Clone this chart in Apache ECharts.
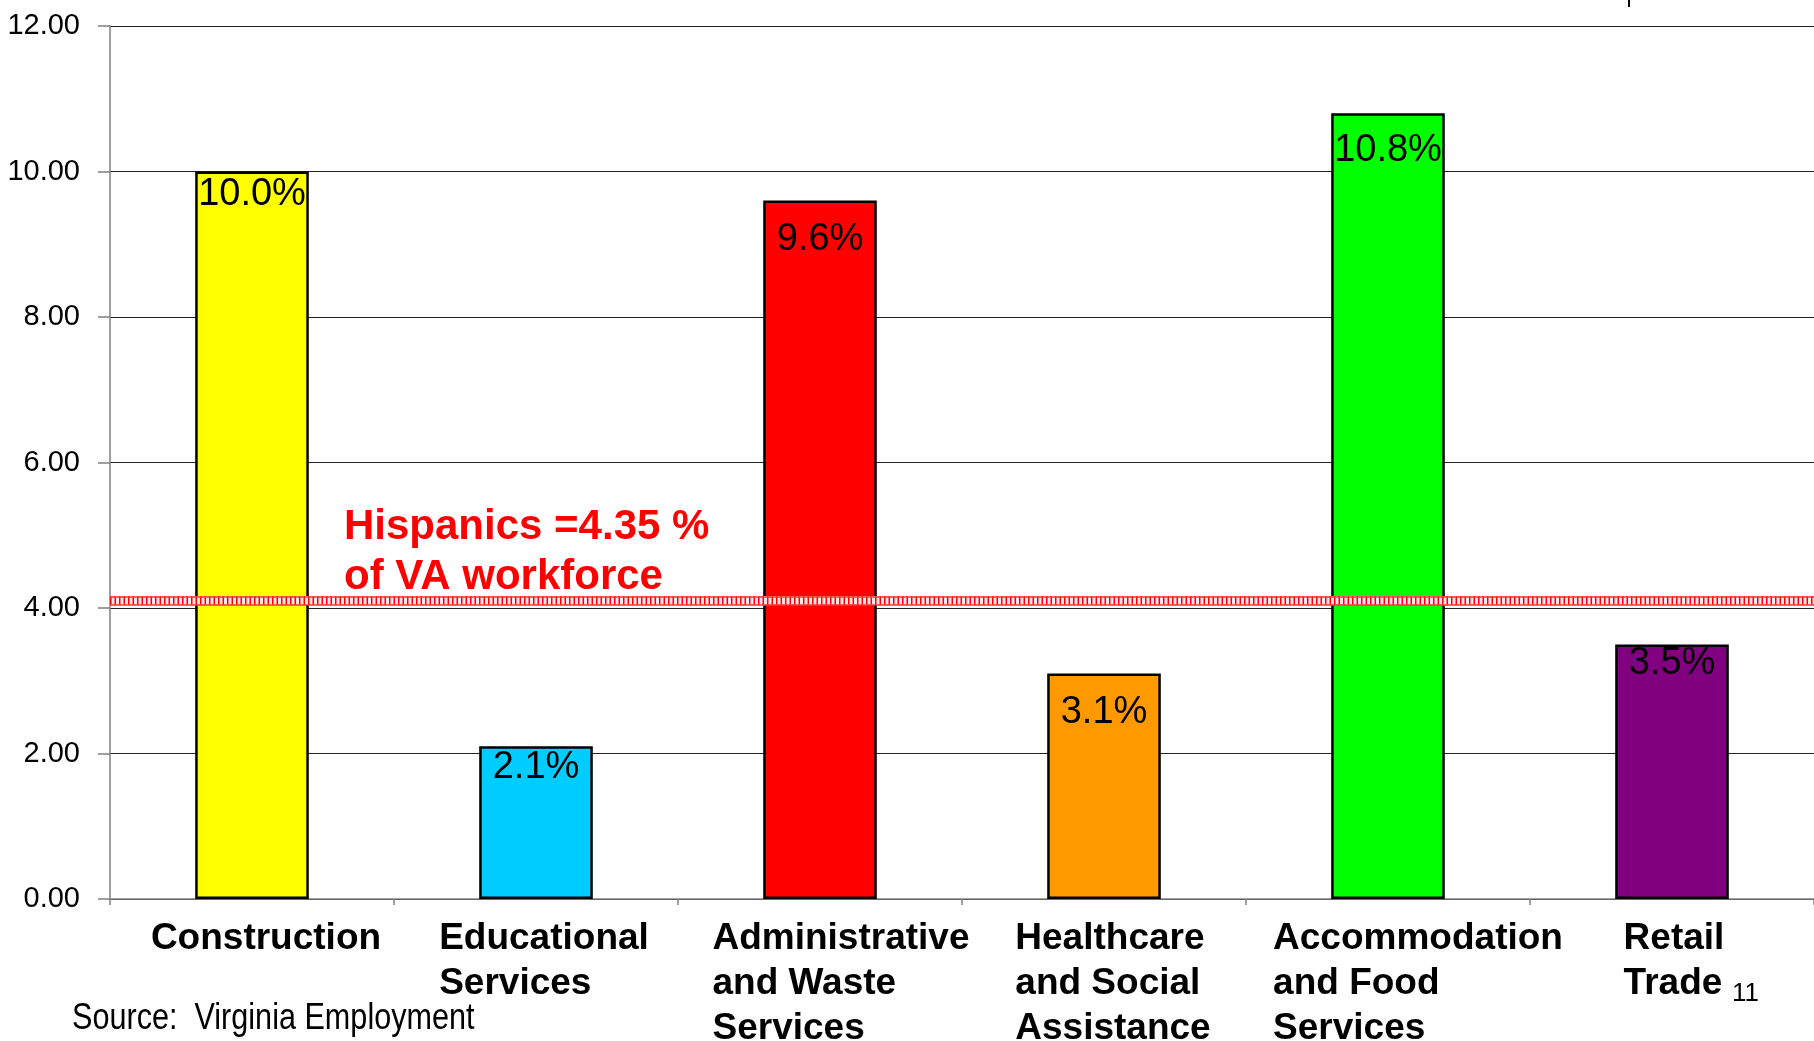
<!DOCTYPE html>
<html>
<head>
<meta charset="utf-8">
<script src="https://cdn.jsdelivr.net/npm/echarts@6/dist/echarts.min.js"></script>
<style>
html,body{margin:0;padding:0;background:#fff;}
#chart{width:1814px;height:1041px;}
</style>
</head>
<body>
<div id="chart"></div>
<script>
const categories = ['Construction', 'Educational\nServices', 'Administrative\nand Waste\nServices', 'Healthcare\nand Social\nAssistance', 'Accommodation\nand Food\nServices', 'Retail\nTrade'];
const values = [10.0, 2.1, 9.6, 3.1, 10.8, 3.5];
const barColors = ['#ffff00', '#00ccff', '#ff0000', '#ff9900', '#00ff00', '#800080'];
const labelGaps = [4, 2, 20, 20, 18, 0];
const labelShift = [14, 8, 21, 9, 30, 2];
const yTicks = [0, 2, 4, 6, 8, 10, 12];
const hispanicLevel = 4.1;
const hispanicText = 'Hispanics =4.35 %\nof VA workforce';
const sourceText = 'Source:  Virginia Employment';
const pageNumber = '11';

const richStyles = {};
labelShift.forEach(function (s, i) {
  richStyles['c' + i] = {
    align: 'left', fontFamily: 'Liberation Sans, Arial, sans-serif', fontWeight: 'bold',
    fontSize: 37, lineHeight: 45, color: '#000',
    padding: [0, s < 0 ? -2 * s : 0, 0, s > 0 ? 2 * s : 0]
  };
});

const chart = echarts.init(document.getElementById('chart'));
const redEdge = 0.06;
chart.setOption({
  animation: false,
  backgroundColor: '#ffffff',
  grid: {left: 110, right: 0, top: 26, bottom: 142, containLabel: false, outerBoundsMode: 'none'},
  xAxis: {
    type: 'category',
    data: categories,
    axisLine: {show: true, lineStyle: {color: '#808080', width: 1.5}},
    axisTick: {show: true, length: 6, lineStyle: {color: '#808080', width: 1.5}},
    axisLabel: {
      interval: 0,
      margin: 17,
      formatter: function (v, idx) {
        return v.split('\n').map(function (l) { return '{c' + idx + '|' + l + '}'; }).join('\n');
      },
      rich: richStyles
    }
  },
  yAxis: {
    type: 'value',
    min: yTicks[0],
    max: yTicks[yTicks.length - 1],
    interval: 2,
    axisLine: {show: true, lineStyle: {color: '#808080', width: 1.5}},
    axisTick: {show: true, inside: false, length: 12, lineStyle: {color: '#808080', width: 1.5}},
    axisLabel: {
      margin: 30,
      fontFamily: 'Liberation Sans, Arial, sans-serif',
      fontSize: 29,
      color: '#000',
      formatter: function (v) { return v.toFixed(2); }
    },
    splitLine: {show: true, lineStyle: {color: '#222', width: 1.2}}
  },
  series: [{
    type: 'bar',
    barWidth: '40%',
    data: values.map(function (v, i) {
      return {value: v, itemStyle: {color: barColors[i], borderColor: '#000', borderWidth: 2.5},
              label: {distance: labelGaps[i]}};
    }),
    label: {
      show: true,
      position: 'insideTop',
      fontFamily: 'Liberation Sans, Arial, sans-serif',
      fontSize: 38,
      color: '#000',
      formatter: function (p) { return p.value.toFixed(1) + '%'; }
    },
    markLine: {
      silent: true,
      symbol: 'none',
      z: 10,
      label: {show: false},
      data: [
        {yAxis: hispanicLevel, lineStyle: {color: '#ffe6e6', width: 9, type: 'solid'}},
        {yAxis: hispanicLevel, lineStyle: {color: '#ff0000', width: 9, type: [1.5, 3]}},
        {yAxis: hispanicLevel + redEdge, lineStyle: {color: '#ff3333', width: 1.5, type: 'solid'}},
        {yAxis: hispanicLevel - redEdge, lineStyle: {color: '#ff3333', width: 1.5, type: 'solid'}}
      ]
    }
  }],
  graphic: [
    {type: 'text', left: 344, top: 502, z: 20,
     style: {text: hispanicText, fill: '#ff0000', font: 'bold 42px "Liberation Sans", Arial, sans-serif', lineHeight: 50}},
    {type: 'text', x: 72, y: 1001, scaleX: 0.85, z: 20,
     style: {text: sourceText, fill: '#000', font: '36px "Liberation Sans", Arial, sans-serif'}},
    {type: 'text', left: 1732, top: 981, z: 20,
     style: {text: pageNumber, fill: '#000', font: '26px "Liberation Sans", Arial, sans-serif'}},
    {type: 'line', z: 20, shape: {x1: 1629, y1: 0, x2: 1629, y2: 7}, style: {stroke: '#000', lineWidth: 2}}
  ]
});
</script>
</body>
</html>
